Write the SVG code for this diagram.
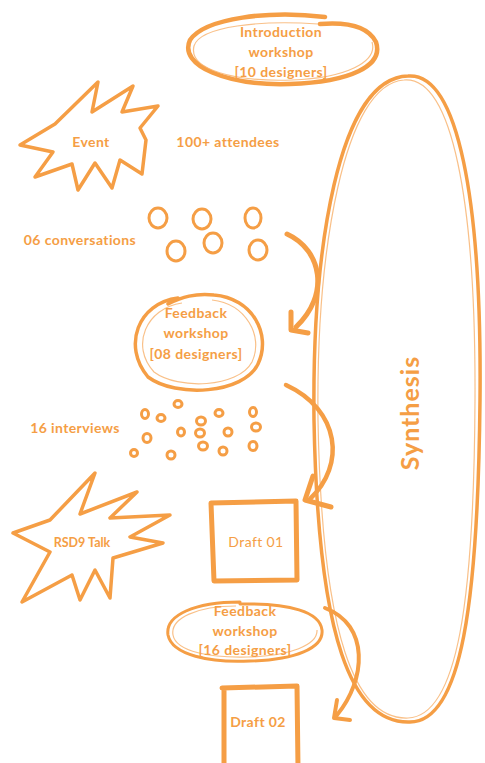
<svg xmlns="http://www.w3.org/2000/svg" width="485" height="763" viewBox="0 0 485 763">
<style>
.ln{fill:none;stroke:#F59E45;stroke-linecap:round;stroke-linejoin:round}
.sk{fill:none;stroke:#F7B06A;stroke-width:1.2;opacity:0.8}
.t{font-family:"Lato","Noto Sans",sans-serif;font-weight:bold;fill:#F59E45;text-anchor:middle;font-size:14px;letter-spacing:0.4px}
.dot{fill:none;stroke:#F59E45;stroke-width:3}
</style>
<rect width="485" height="763" fill="#fff"/>

<g id="synthesis">
<path class="ln" stroke-width="3.5" d="M408 76 C458 72,482 200,480 400 C478 600,462 722,410 722 C352 724,318 640,314 420 C312 250,338 78,408 76 Z"/>
<path class="sk" d="M404 80 C452 76,476 200,475 400 C474 600,458 716,408 718 C356 720,322 640,318 420 C316 250,344 84,404 80"/>
<text class="t" style="font-size:25px;letter-spacing:1px" transform="translate(419,413) rotate(-90)">Synthesis</text>
</g>

<g id="intro">
<path class="ln" stroke-width="4.5" d="M325 17 C270 10,205 18,190 40 C178 66,228 86,290 84 C350 82,384 66,376 42 C368 26,345 22,320 24"/>
<path class="sk" d="M318 24 C262 20,200 26,194 46 C188 70,236 82,292 80 C346 78,378 62,372 42"/>
<text class="t" x="281" y="37">Introduction</text>
<text class="t" x="281" y="57">workshop</text>
<text class="t" x="281" y="77">[10 designers]</text>
</g>

<g id="event">
<path class="ln" stroke-width="3.5" d="M55 124 L98 82 L92 112 L133 86 L122 112 L158 106 L140 128 L146 140 L142 174 L120 160 L112 188 L95 163 L78 190 L72 164 L35 177 L53 152 L20 145 Z"/>
<text class="t" x="91" y="147">Event</text>
</g>
<g id="attendees"><text class="t" x="228" y="147">100+ attendees</text></g>

<g id="conversations">
<text class="t" x="80" y="245">06 conversations</text>
<ellipse class="dot" stroke-width="3.5" cx="158" cy="218" rx="9" ry="10"/>
<ellipse class="dot" stroke-width="3.5" cx="202" cy="219" rx="9" ry="10"/>
<ellipse class="dot" stroke-width="3.5" cx="253" cy="218" rx="8" ry="10"/>
<ellipse class="dot" stroke-width="3.5" cx="176" cy="251" rx="9" ry="10"/>
<ellipse class="dot" stroke-width="3.5" cx="213" cy="243" rx="9" ry="10"/>
<ellipse class="dot" stroke-width="3.5" cx="258" cy="250" rx="9" ry="10"/>
</g>

<g id="feedback1">
<path class="ln" stroke-width="3.5" d="M178 298 C138 303,122 346,148 377 C176 398,244 394,258 364 C272 334,252 298,214 295 C195 293,182 297,168 304"/>
<path class="sk" d="M182 303 C146 308,130 346,154 372 C178 390,238 388,252 362 C264 336,246 304,212 300"/>
<text class="t" x="196" y="318">Feedback</text>
<text class="t" x="196" y="338">workshop</text>
<text class="t" x="196" y="359">[08 designers]</text>
</g>

<g id="interviews">
<text class="t" x="75" y="433">16 interviews</text>
<ellipse class="dot" cx="178" cy="404" rx="4" ry="3.5"/>
<ellipse class="dot" cx="145" cy="414" rx="3.5" ry="4.5"/>
<ellipse class="dot" cx="161" cy="418" rx="4" ry="3.5"/>
<ellipse class="dot" cx="201" cy="421" rx="4.5" ry="4"/>
<ellipse class="dot" cx="219" cy="413" rx="4" ry="3.5"/>
<ellipse class="dot" cx="253" cy="412" rx="3.5" ry="4.5"/>
<ellipse class="dot" cx="147" cy="438" rx="4" ry="4.5"/>
<ellipse class="dot" cx="181" cy="432" rx="3.5" ry="4"/>
<ellipse class="dot" cx="200" cy="433" rx="4.5" ry="4"/>
<ellipse class="dot" cx="228" cy="432" rx="4" ry="4"/>
<ellipse class="dot" cx="256" cy="427" rx="4.5" ry="4"/>
<ellipse class="dot" cx="134" cy="453" rx="3.5" ry="3.5"/>
<ellipse class="dot" cx="171" cy="455" rx="4" ry="4"/>
<ellipse class="dot" cx="203" cy="446" rx="4.5" ry="4"/>
<ellipse class="dot" cx="223" cy="451" rx="4" ry="4"/>
<ellipse class="dot" cx="253" cy="446" rx="4" ry="4.5"/>
</g>

<g id="rsd9">
<path class="ln" stroke-width="3.5" d="M50 520 L95 473 L80 514 L137 492 L110 518 L170 515 L130 537 L163 543 L113 558 L110 598 L95 570 L80 600 L72 575 L22 602 L50 552 L13 533 Z"/>
<text class="t" style="font-size:12.5px;letter-spacing:0" x="82" y="547">RSD9 Talk</text>
</g>

<g id="draft01">
<path class="ln" stroke-width="5" d="M211 503 L296 501 L297 580 L214 581 Z"/>
<text class="t" x="256" y="547" font-weight="normal" style="font-weight:normal">Draft 01</text>
</g>

<g id="feedback2">
<path class="ln" stroke-width="3" d="M240 602 C195 602,165 615,168 635 C172 655,210 663,250 661 C295 660,324 648,322 630 C320 612,290 603,240 604"/>
<path class="sk" d="M236 606 C198 606,170 618,173 635 C176 652,212 658,248 657 C290 656,318 645,317 630"/>
<text class="t" x="245" y="616">Feedback</text>
<text class="t" x="245" y="636">workshop</text>
<text class="t" x="245" y="655">[16 designers]</text>
</g>

<g id="draft02">
<path class="ln" stroke-width="5" d="M222 688 L297 686 L298 768 M224 688 L224 768"/>
<text class="t" x="258" y="727">Draft 02</text>
</g>

<g id="connectors">
<path class="ln" stroke-width="5" d="M287 234 C322 250,330 295,296 327"/>
<path class="ln" stroke-width="5" d="M291 312 L291 330 L308 333"/>
<path class="ln" stroke-width="4.5" d="M286 385 C340 410,346 465,310 499"/>
<path class="ln" stroke-width="5" d="M313 476 L305 500 L331 507"/>
<path class="ln" stroke-width="4" d="M325 608 C370 625,366 680,337 715"/>
<path class="ln" stroke-width="4" d="M337 700 L334 718 L350 720"/>
</g>
</svg>
